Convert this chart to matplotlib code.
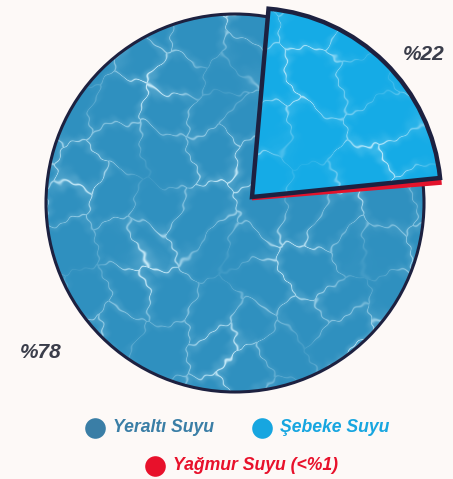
import numpy as np
import matplotlib
matplotlib.use('Agg')
import matplotlib.pyplot as plt
from matplotlib.patches import Circle, Wedge

# data
categories = ['Yeraltı Suyu', 'Şebeke Suyu', 'Yağmur Suyu (<%1)']
shares = [77.7, 22.0, 0.3]
pct_labels = ['%78', '%22']

fill_colors = ['#2f90bf', '#15abe6', '#e3132c']
legend_colors = ['#3a7ea6', '#17a6e0', '#e8112b']
NAVY = '#1d2140'
BG = '#fdf9f7'

W, H = 453, 479
CENTER = (235, 276)
RADIUS = 189
SHIFTED = (252, 282)  # where the pulled-out slices sit


def frac(a):
    return a - np.floor(a)


def caustic_lines(w, h, cell, k):
    """cell-like water light pattern, returns 0..1 line intensity"""
    yy, xx = np.mgrid[0:h, 0:w].astype(float)
    xw = xx + 6 * np.sin(yy / 19.0 + k) + 2.5 * np.sin(yy / 6.3 + 2 * k) + 1.2 * np.sin(yy / 2.1 + xx / 5.0)
    yw = yy + 6 * np.sin(xx / 21.0 + 2 * k) + 2.5 * np.sin(xx / 5.7 + k) + 1.2 * np.sin(xx / 2.3 - yy / 4.0)
    gx, gy = xw / cell, yw / cell
    ix, iy = np.floor(gx), np.floor(gy)
    f1 = np.full(gx.shape, 9.0)
    f2 = np.full(gx.shape, 9.0)
    for dx in (-1, 0, 1):
        for dy in (-1, 0, 1):
            cx, cy = ix + dx, iy + dy
            hx = frac(np.sin(cx * 127.1 + cy * 311.7 + k) * 43758.5453)
            hy = frac(np.sin(cx * 269.5 + cy * 183.3 + k) * 43758.5453)
            d = np.hypot(cx + 0.1 + 0.8 * hx - gx, cy + 0.1 + 0.8 * hy - gy)
            f2 = np.where(d < f1, f1, np.minimum(f2, d))
            f1 = np.minimum(f1, d)
    edge = (f2 - f1) * cell
    # lines fade in and out along their length
    fade = 0.55 + 0.45 * np.sin(xx / 23.0 + k) * np.sin(yy / 29.0 - k)
    return np.exp(-(edge / 1.3) ** 2) * fade, np.exp(-(edge / 9.0) ** 2) * fade


def overlay(k, cell, strength):
    core, glow = caustic_lines(W, H, cell, k)
    img = np.zeros((H, W, 4))
    img[..., 0] = 0.85
    img[..., 1] = 0.96
    img[..., 2] = 1.0
    img[..., 3] = np.clip(strength * (0.85 * core + 0.25 * glow), 0, 1)
    return img


fig = plt.figure(figsize=(W / 100, H / 100), dpi=100)
fig.patch.set_facecolor(BG)
ax = fig.add_axes([0, 0, 1, 1])
ax.set_facecolor(BG)

# base plate behind the pie so the pulled-out slice leaves no gap
base = Circle(CENTER, RADIUS, facecolor=fill_colors[0], edgecolor='none', zorder=1)
ax.add_patch(base)

wedges, _ = ax.pie(shares, colors=fill_colors, startangle=4.7, counterclock=False,
                   center=CENTER, radius=RADIUS,
                   wedgeprops=dict(linewidth=0))
wedges[0].set_zorder(2)

tex_main = ax.imshow(overlay(1.3, 46, 0.8), extent=(0, W, 0, H), zorder=3,
                     interpolation='bilinear')
tex_main.set_clip_path(base)
ax.add_patch(Circle(CENTER, RADIUS, fill=False, edgecolor=NAVY, linewidth=2.2, zorder=3.5))

# pulled-out slices
for w in wedges[1:]:
    w.set_center(SHIFTED)
wedges[2].set_center((SHIFTED[0], SHIFTED[1] - 2))
wedges[2].set_zorder(3.8)
wedges[2].set_edgecolor(fill_colors[2])
wedges[2].set_linewidth(2.0)
wedges[1].set_zorder(4)

tex_city = ax.imshow(overlay(4.1, 56, 0.8), extent=(0, W, 0, H), zorder=5,
                     interpolation='bilinear')
tex_city.set_clip_path(wedges[1])
w1 = wedges[1]
ax.add_patch(Wedge(SHIFTED, RADIUS, w1.theta1, w1.theta2, fill=False,
                   edgecolor=NAVY, linewidth=3.2, joinstyle='miter', zorder=6))

# percentage labels
pct_font = dict(family=['Liberation Sans', 'DejaVu Sans'], fontsize=15,
                fontweight='bold', fontstyle='italic', color='#3a3d4a')
ax.text(403, H - 54, pct_labels[1], ha='left', va='center', **pct_font)
ax.text(20, H - 352, pct_labels[0], ha='left', va='center', **pct_font)

# legend
leg_pos = [(95, H - 428), (262, H - 428), (155, H - 466)]
leg_font = dict(family=['Liberation Sans Narrow', 'Liberation Sans', 'DejaVu Sans'],
                fontsize=12.7, fontweight='bold', fontstyle='italic')
for (x, y), name, c in zip(leg_pos, categories, legend_colors):
    ax.scatter([x], [y], s=220, color=c, zorder=7, linewidths=0)
    ax.text(x + 18, y, name, ha='left', va='center', color=c, **leg_font)

ax.set_xlim(0, W)
ax.set_ylim(0, H)
ax.set_aspect('equal')
ax.axis('off')

fig.savefig('out.png', dpi=100, facecolor=BG)
